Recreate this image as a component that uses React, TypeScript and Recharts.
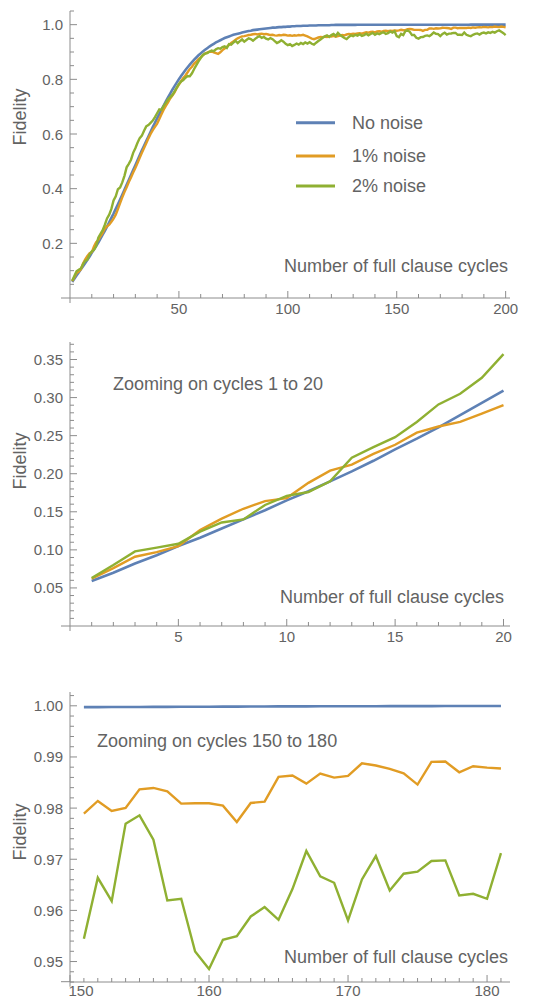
import { LineChart, Line, XAxis, YAxis } from "recharts";

// fidelity per full clause cycle (cycles 1..200)
const noNoise = [
  0.059, 0.070, 0.082, 0.093, 0.105, 0.116, 0.128, 0.140, 0.152, 0.165,
  0.177, 0.190, 0.203, 0.217, 0.232, 0.246, 0.261, 0.277, 0.293, 0.309,
  0.326, 0.343, 0.360, 0.378, 0.396, 0.414, 0.432, 0.450, 0.468, 0.486,
  0.504, 0.522, 0.540, 0.557, 0.574, 0.591, 0.608, 0.625, 0.641, 0.657,
  0.673, 0.689, 0.704, 0.719, 0.734, 0.748, 0.762, 0.775, 0.788, 0.800,
  0.812, 0.823, 0.834, 0.844, 0.854, 0.863, 0.872, 0.880, 0.888, 0.895,
  0.902, 0.908, 0.914, 0.920, 0.925, 0.930, 0.935, 0.939, 0.943, 0.947,
  0.951, 0.954, 0.957, 0.960, 0.963, 0.965, 0.967, 0.969, 0.971, 0.973,
  0.975, 0.977, 0.978, 0.980, 0.981, 0.982, 0.983, 0.984, 0.985, 0.986,
  0.987, 0.988, 0.989, 0.989, 0.990, 0.991, 0.991, 0.992, 0.992, 0.993,
  0.993, 0.994, 0.994, 0.995, 0.995, 0.995, 0.996, 0.996, 0.996, 0.997,
  0.997, 0.997, 0.997, 0.998, 0.998, 0.998, 0.998, 0.998, 0.998, 0.999,
  0.9990, 0.9991, 0.9991, 0.9992, 0.9992, 0.9993, 0.9993, 0.9993, 0.9994, 0.9994,
  0.9994, 0.9995, 0.9995, 0.9995, 0.9995, 0.9996, 0.9996, 0.9996, 0.9996, 0.9996,
  0.9996, 0.9996, 0.9997, 0.9997, 0.9997, 0.9997, 0.9997, 0.9997, 0.9997, 0.9997,
  0.99974, 0.99975, 0.99976, 0.99977, 0.99978, 0.99979, 0.9998, 0.99981, 0.99982, 0.99983,
  0.99984, 0.99985, 0.99986, 0.99987, 0.99988, 0.99988, 0.99989, 0.9999, 0.9999, 0.99991,
  0.99992, 0.99992, 0.99993, 0.99993, 0.99994, 0.99994, 0.99995, 0.99995, 0.99996, 0.99996,
  0.99997, 0.99997, 0.99997, 0.99998, 0.99998, 0.99998, 0.99998, 0.99998, 0.99999, 0.99999,
  0.99999, 0.99999, 0.99999, 0.99999, 0.99999, 0.99999, 1.0, 1.0, 1.0, 1.0,
];

const noise1 = [
  0.062, 0.076, 0.091, 0.097, 0.105, 0.126, 0.141, 0.154, 0.164, 0.168,
  0.188, 0.204, 0.212, 0.226, 0.238, 0.254, 0.262, 0.268, 0.279, 0.290,
  0.305, 0.325, 0.347, 0.368, 0.388, 0.405, 0.424, 0.441, 0.459, 0.476,
  0.494, 0.513, 0.531, 0.549, 0.566, 0.584, 0.600, 0.614, 0.626, 0.638,
  0.655, 0.672, 0.689, 0.703, 0.716, 0.730, 0.741, 0.752, 0.768, 0.781,
  0.793, 0.805, 0.814, 0.826, 0.838, 0.846, 0.858, 0.865, 0.874, 0.880,
  0.888, 0.894, 0.898, 0.901, 0.902, 0.899, 0.896, 0.893, 0.899, 0.907,
  0.913, 0.919, 0.926, 0.933, 0.939, 0.945, 0.950, 0.954, 0.957, 0.958,
  0.960, 0.962, 0.963, 0.965, 0.966, 0.964, 0.966, 0.967, 0.965, 0.966,
  0.964, 0.962, 0.963, 0.961, 0.960, 0.962, 0.961, 0.963, 0.962, 0.960,
  0.961, 0.959, 0.961, 0.960, 0.962, 0.961, 0.963, 0.960, 0.957, 0.953,
  0.949, 0.947, 0.950, 0.953, 0.955, 0.954, 0.956, 0.955, 0.958, 0.957,
  0.959, 0.956, 0.958, 0.960, 0.962, 0.961, 0.964, 0.966, 0.965, 0.967,
  0.966, 0.968, 0.969, 0.967, 0.970, 0.972, 0.971, 0.973, 0.974, 0.972,
  0.975, 0.976, 0.974, 0.977, 0.978, 0.976, 0.978, 0.977, 0.979, 0.978,
  0.97892, 0.9814, 0.97944, 0.98003, 0.98368, 0.98394, 0.98329, 0.98087, 0.98094, 0.98094,
  0.98048, 0.97728, 0.981, 0.98127, 0.9861, 0.98636, 0.98479, 0.98675, 0.98597, 0.98629,
  0.98877, 0.98832, 0.98766, 0.98681, 0.9846, 0.98903, 0.9891, 0.98701, 0.98819, 0.98792,
  0.98773, 0.988, 0.989, 0.988, 0.990, 0.989, 0.990, 0.991, 0.990, 0.992,
  0.991, 0.990, 0.992, 0.991, 0.993, 0.992, 0.991, 0.993, 0.992, 0.990,
];

const noise2 = [
  0.063, 0.080, 0.098, 0.103, 0.108, 0.124, 0.136, 0.140, 0.159, 0.171,
  0.176, 0.190, 0.221, 0.235, 0.248, 0.268, 0.291, 0.305, 0.326, 0.357,
  0.372, 0.398, 0.404, 0.423, 0.447, 0.478, 0.491, 0.506, 0.531, 0.548,
  0.568, 0.585, 0.594, 0.612, 0.628, 0.633, 0.641, 0.649, 0.662, 0.676,
  0.690, 0.688, 0.703, 0.714, 0.727, 0.735, 0.743, 0.756, 0.770, 0.783,
  0.792, 0.797, 0.806, 0.812, 0.811, 0.822, 0.838, 0.852, 0.866, 0.878,
  0.889, 0.894, 0.896, 0.901, 0.905, 0.903, 0.910, 0.914, 0.912, 0.918,
  0.921, 0.915, 0.929, 0.927, 0.934, 0.941, 0.933, 0.940, 0.946, 0.938,
  0.944, 0.950, 0.947, 0.941, 0.948, 0.954, 0.958, 0.952, 0.955, 0.949,
  0.946, 0.951, 0.947, 0.940, 0.933, 0.937, 0.943, 0.938, 0.930, 0.925,
  0.929, 0.922, 0.926, 0.931, 0.927, 0.933, 0.929, 0.935, 0.931, 0.936,
  0.930, 0.927, 0.934, 0.940, 0.946, 0.952, 0.957, 0.961, 0.955, 0.962,
  0.966, 0.959, 0.970, 0.962, 0.957, 0.951, 0.947, 0.955, 0.961, 0.958,
  0.963, 0.960, 0.965, 0.959, 0.962, 0.967, 0.961, 0.966, 0.970, 0.963,
  0.968, 0.965, 0.970, 0.972, 0.966, 0.969, 0.975, 0.971, 0.976, 0.958,
  0.95444, 0.96638, 0.96181, 0.97696, 0.97859, 0.97383, 0.96194, 0.96227, 0.95196, 0.94856,
  0.95424, 0.95496, 0.95881, 0.96064, 0.95816, 0.96416, 0.97161, 0.96664, 0.9654, 0.95803,
  0.96606, 0.97063, 0.9639, 0.96717, 0.96756, 0.96965, 0.96978, 0.96292, 0.96325, 0.96227,
  0.97121, 0.963, 0.960, 0.958, 0.963, 0.966, 0.968, 0.964, 0.969, 0.971,
  0.968, 0.972, 0.970, 0.974, 0.971, 0.976, 0.979, 0.974, 0.969, 0.962,
];

const seriesNames = ["No noise", "1% noise", "2% noise"];

// ticks
const xTicks1 = [10, 20, 30, 40, 50, 60, 70, 80, 90, 100, 110, 120, 130, 140, 150, 160, 170, 180, 190, 200];
const xMajor1 = [50, 100, 150, 200];
const yTicks1 = [0.05, 0.1, 0.15, 0.2, 0.25, 0.3, 0.35, 0.4, 0.45, 0.5, 0.55, 0.6, 0.65, 0.7, 0.75, 0.8, 0.85, 0.9, 0.95, 1.0, 1.05];
const yMajor1 = [0.2, 0.4, 0.6, 0.8, 1.0];

const xTicks2 = [1, 2, 3, 4, 5, 6, 7, 8, 9, 10, 11, 12, 13, 14, 15, 16, 17, 18, 19, 20];
const xMajor2 = [5, 10, 15, 20];
const yTicks2 = [
  0.01, 0.02, 0.03, 0.04, 0.05, 0.06, 0.07, 0.08, 0.09, 0.1, 0.11, 0.12, 0.13, 0.14, 0.15, 0.16, 0.17, 0.18, 0.19,
  0.2, 0.21, 0.22, 0.23, 0.24, 0.25, 0.26, 0.27, 0.28, 0.29, 0.3, 0.31, 0.32, 0.33, 0.34, 0.35, 0.36, 0.37,
];
const yMajor2 = [0.05, 0.1, 0.15, 0.2, 0.25, 0.3, 0.35];

const xTicks3 = [
  150, 151, 152, 153, 154, 155, 156, 157, 158, 159, 160, 161, 162, 163, 164, 165,
  166, 167, 168, 169, 170, 171, 172, 173, 174, 175, 176, 177, 178, 179, 180, 181,
];
const xMajor3 = [150, 160, 170, 180];
const yTicks3 = [
  0.946, 0.948, 0.95, 0.952, 0.954, 0.956, 0.958, 0.96, 0.962, 0.964, 0.966, 0.968, 0.97, 0.972, 0.974,
  0.976, 0.978, 0.98, 0.982, 0.984, 0.986, 0.988, 0.99, 0.992, 0.994, 0.996, 0.998, 1.0, 1.002,
];
const yMajor3 = [0.95, 0.96, 0.97, 0.98, 0.99, 1.0];

const BLUE = "#5e81b5";
const ORANGE = "#e19c24";
const GREEN = "#8fb032";
const AXIS = "#8c8c8c";
const TEXT = "#636363";
const FONT = '"Liberation Sans", Arial, sans-serif';
const W = 549;
const YW = 70;
const RIGHT = 39;
const YGAP = 7;

const rows = noNoise.map((v, i) => ({ c: i + 1, a: v, b: noise1[i], g: noise2[i] }));
const rowsEarly = rows.slice(0, 20);
const rowsLate = rows.slice(150, 181);

const near = (v: number, list: number[]) => list.some((m) => Math.abs(m - v) < 1e-9);

function yTick(majors: number[], digits: number) {
  return (props: any) => {
    const { x, y, payload } = props;
    const v = payload.value;
    const major = near(v, majors);
    const ax = x + YGAP;
    return (
      <g>
        <line x1={ax} x2={ax + (major ? 7 : 4)} y1={y} y2={y} stroke={AXIS} strokeWidth={1} />
        {major && (
          <text x={x} y={y} textAnchor="end" dominantBaseline="central" fill={TEXT} fontSize={15} fontFamily={FONT}>
            {v.toFixed(digits)}
          </text>
        )}
      </g>
    );
  };
}

// gap = tickMargin of the axis, so the tick mark can start on the axis line
function xTick(majors: number[], gap: number, shiftFirst = 0) {
  return (props: any) => {
    const { x, y, payload, index } = props;
    const v = payload.value;
    const major = near(v, majors);
    const ay = y - gap;
    return (
      <g>
        <line x1={x} x2={x} y1={ay} y2={ay - (major ? 7 : 4)} stroke={AXIS} strokeWidth={1} />
        {major && (
          <text
            x={x + (index === 0 ? shiftFirst : 0)}
            y={y}
            dy="0.72em"
            textAnchor="middle"
            fill={TEXT}
            fontSize={15}
            fontFamily={FONT}
          >
            {v}
          </text>
        )}
      </g>
    );
  };
}

function lines() {
  return [
    <Line key="a" type="linear" dataKey="a" name={seriesNames[0]} stroke={BLUE} strokeWidth={2.6} dot={false} isAnimationActive={false} />,
    <Line key="b" type="linear" dataKey="b" name={seriesNames[1]} stroke={ORANGE} strokeWidth={2.4} dot={false} isAnimationActive={false} />,
    <Line key="g" type="linear" dataKey="g" name={seriesNames[2]} stroke={GREEN} strokeWidth={2.4} dot={false} isAnimationActive={false} />,
  ];
}

const label = { fill: TEXT, fontSize: 18, fontFamily: FONT } as const;

function Overlay() {
  const legendY = [122.7, 156, 186];
  const colors = [BLUE, ORANGE, GREEN];
  const axesY = [298, 626, 981.7];
  return (
    <svg width={W} height={999} style={{ position: "absolute", left: 0, top: 0, pointerEvents: "none" }}>
      {axesY.map((ay) => (
        <g key={ay}>
          <line x1={61} x2={70} y1={ay} y2={ay} stroke={AXIS} />
          <line x1={70} x2={70} y1={ay} y2={ay + 5} stroke={AXIS} />
        </g>
      ))}
      {[117, 461, 832].map((cy) => (
        <text key={cy} {...label} x={20} y={cy} transform={`rotate(-90 20 ${cy})`} textAnchor="middle" dominantBaseline="central">
          Fidelity
        </text>
      ))}
      <text {...label} x={508} y={266} textAnchor="end" dominantBaseline="central">Number of full clause cycles</text>
      <text {...label} x={504} y={597} textAnchor="end" dominantBaseline="central">Number of full clause cycles</text>
      <text {...label} x={508} y={957} textAnchor="end" dominantBaseline="central">Number of full clause cycles</text>
      <text {...label} x={113} y={384} dominantBaseline="central">Zooming on cycles 1 to 20</text>
      <text {...label} x={97} y={741} dominantBaseline="central">Zooming on cycles 150 to 180</text>
      {seriesNames.map((n, i) => (
        <g key={n}>
          <line x1={296} x2={335} y1={legendY[i]} y2={legendY[i]} stroke={colors[i]} strokeWidth={3} />
          <text {...label} x={352} y={legendY[i]} dominantBaseline="central">{n}</text>
        </g>
      ))}
    </svg>
  );
}

export default function App() {
  return (
    <div style={{ position: "absolute", left: 0, top: 0, width: W, height: 999, background: "#fff" }}>
      <div style={{ position: "absolute", left: 0, top: 0 }}>
        <LineChart width={W} height={320} data={rows} margin={{ top: 11, right: RIGHT, bottom: 0, left: 0 }}>
          <XAxis type="number" dataKey="c" domain={[0, 202]} ticks={xTicks1} interval={0} height={22}
            tickSize={0} tickMargin={5} tick={xTick(xMajor1, 5)} axisLine={{ stroke: AXIS }} allowDataOverflow />
          <YAxis type="number" domain={[0, 1.05]} ticks={yTicks1} interval={0} width={YW}
            tickSize={0} tickMargin={YGAP} tick={yTick(yMajor1, 1)} axisLine={{ stroke: AXIS }} allowDataOverflow />
          {lines()}
        </LineChart>
      </div>
      <div style={{ position: "absolute", left: 0, top: 320 }}>
        <LineChart width={W} height={330} data={rowsEarly} margin={{ top: 22, right: RIGHT, bottom: 0, left: 0 }}>
          <XAxis type="number" dataKey="c" domain={[0, 20.3]} ticks={xTicks2} interval={0} height={24}
            tickSize={0} tickMargin={5} tick={xTick(xMajor2, 5)} axisLine={{ stroke: AXIS }} allowDataOverflow />
          <YAxis type="number" domain={[0, 0.373]} ticks={yTicks2} interval={0} width={YW}
            tickSize={0} tickMargin={YGAP} tick={yTick(yMajor2, 2)} axisLine={{ stroke: AXIS }} allowDataOverflow />
          {lines()}
        </LineChart>
      </div>
      <div style={{ position: "absolute", left: 0, top: 650 }}>
        <LineChart width={W} height={349} data={rowsLate} margin={{ top: 42, right: RIGHT, bottom: 0, left: 0 }}>
          <XAxis type="number" dataKey="c" domain={[150, 181.65]} ticks={xTicks3} interval={0} height={17}
            tickSize={0} tickMargin={3} tick={xTick(xMajor3, 3, 11)} axisLine={{ stroke: AXIS }} allowDataOverflow />
          <YAxis type="number" domain={[0.946, 1.0027]} ticks={yTicks3} interval={0} width={YW}
            tickSize={0} tickMargin={YGAP} tick={yTick(yMajor3, 2)} axisLine={{ stroke: AXIS }} allowDataOverflow />
          {lines()}
        </LineChart>
      </div>
      <Overlay />
    </div>
  );
}
